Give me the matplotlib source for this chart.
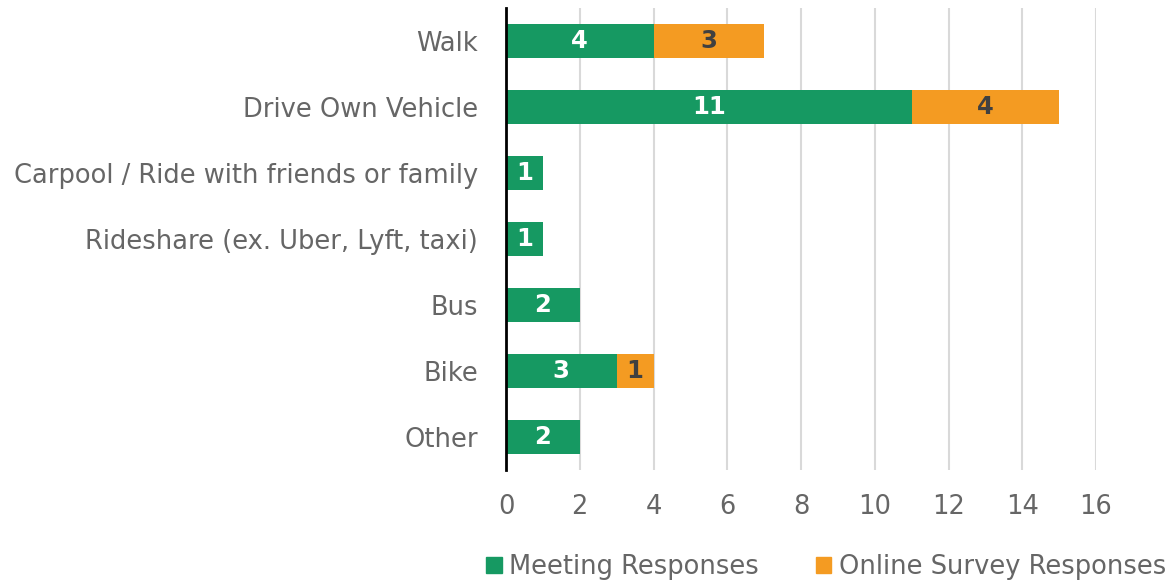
import matplotlib.pyplot as plt
from matplotlib.patches import Patch

modes = ["Walk", "Drive Own Vehicle", "Carpool / Ride with friends or family",
         "Rideshare (ex. Uber, Lyft, taxi)", "Bus", "Bike", "Other"]
meeting = [4, 11, 1, 1, 2, 3, 2]
online = [3, 4, 0, 0, 0, 1, 0]

green = "#169962"
orange = "#F49B22"
gray = "#666666"

plt.rcParams['font.family'] = ['DejaVu Sans']

fig = plt.figure(figsize=(11.71, 5.84), dpi=100)
ax = fig.add_axes([506 / 1171, 1 - 470 / 584, 590 / 1171, 462 / 584])

y = list(range(len(modes)))
ax.barh(y, meeting, height=0.52, color=green, zorder=3)
ax.barh(y, online, left=meeting, height=0.52, color=orange, zorder=3)

for i in y:
    if meeting[i] > 0:
        ax.text(meeting[i] / 2, i, str(meeting[i]), ha='center', va='center',
                color='white', fontsize=17.5, fontweight='bold', zorder=4)
    if online[i] > 0:
        ax.text(meeting[i] + online[i] / 2, i, str(online[i]), ha='center', va='center',
                color='#404040', fontsize=17.5, fontweight='bold', zorder=4)

ax.set_xlim(0, 16)
ax.set_ylim(6.5, -0.5)
ax.set_xticks(range(0, 17, 2))
ax.set_yticks(y)
ax.set_yticklabels(modes)
ax.tick_params(axis='both', length=0, labelsize=18.5, labelcolor=gray)
ax.tick_params(axis='x', pad=17)
ax.tick_params(axis='y', pad=20)
ax.grid(axis='x', color='#d9d9d9', linewidth=1.5, zorder=0)
for s in ['top', 'right', 'bottom']:
    ax.spines[s].set_visible(False)
ax.spines['left'].set_color('black')
ax.spines['left'].set_linewidth(2)
ax.spines['left'].set_zorder(5)

handles = [Patch(color=green, label="Meeting Responses"),
           Patch(color=orange, label="Online Survey Responses")]
leg = fig.legend(handles=handles, loc='center', bbox_to_anchor=(826 / 1171, 1 - 567 / 584),
                 ncol=2, frameon=False, handlelength=0.6, handleheight=0.6,
                 handletextpad=0.3, columnspacing=2.2,
                 prop={'size': 18.5})
for t in leg.get_texts():
    t.set_color(gray)

fig.savefig("out.png", dpi=100)
